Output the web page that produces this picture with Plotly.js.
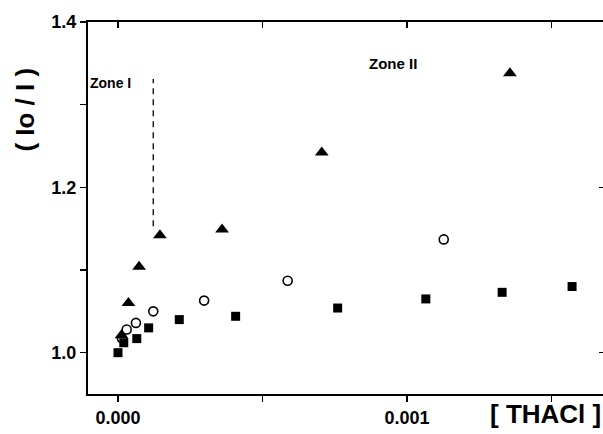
<!DOCTYPE html>
<html>
<head>
<meta charset="utf-8">
<script src="https://cdn.plot.ly/plotly-3.0.1.min.js"></script>
<style>html,body{margin:0;padding:0;background:#fff;}#chart{width:603px;height:434px;}</style>
</head>
<body>
<div id="chart"></div>
<script>
// Data
const squareX = [0, 0.000020, 0.000065, 0.000106, 0.000212, 0.000407, 0.000760, 0.001065, 0.001329, 0.001571];
const squareY = [1.000, 1.012, 1.017, 1.030, 1.040, 1.044, 1.054, 1.065, 1.073, 1.080];
const circleX = [0.000014, 0.000030, 0.000062, 0.000122, 0.000298, 0.000587, 0.001127];
const circleY = [1.017, 1.028, 1.036, 1.050, 1.063, 1.087, 1.137];
const triangleX = [0.000012, 0.000036, 0.000073, 0.000145, 0.000360, 0.000705, 0.001356];
const triangleY = [1.021, 1.060, 1.104, 1.142, 1.149, 1.242, 1.338];
const zoneBoundaryX = [0.000122, 0.000122];
const zoneBoundaryY = [1.153, 1.331];
const xTickVals = [0, 0.0005, 0.001, 0.0015];
const xTickText = ['0.000', '', '0.001', ''];
const yTickVals = [1.0, 1.1, 1.2, 1.3, 1.4];
const yTickText = ['1.0', '', '1.2', '', '1.4'];

const font = 'Liberation Sans, Arial, sans-serif';

const traces = [
  {x: zoneBoundaryX, y: zoneBoundaryY, mode: 'lines', line: {color: '#000', width: 1.3, dash: '6px,5px'}, hoverinfo: 'skip'},
  {x: circleX, y: circleY, mode: 'markers', marker: {symbol: 'circle-open', size: 9, color: '#000', line: {width: 1.6, color: '#000'}}},
  {x: triangleX, y: triangleY, mode: 'markers', marker: {symbol: 'triangle-up', size: 12, color: '#000'}},
  {x: squareX, y: squareY, mode: 'markers', marker: {symbol: 'square', size: 9, color: '#000'}},
  {x: [0], y: [1.0], mode: 'markers', xaxis: 'x2', yaxis: 'y2', marker: {opacity: 0}, hoverinfo: 'skip'}
];

const layout = {
  width: 603, height: 434,
  margin: {l: 88, r: 0, t: 22, b: 40},
  paper_bgcolor: '#fff', plot_bgcolor: '#fff',
  showlegend: false,
  font: {family: font, color: '#000'},
  xaxis: {
    range: [-0.0001038, 0.001678],
    tickvals: xTickVals, ticktext: xTickText,
    ticks: 'outside', ticklen: 6, tickwidth: 1.5, tickcolor: '#000',
    showline: true, linewidth: 2, linecolor: '#000',
    showgrid: false, zeroline: false,
    tickfont: {family: font, size: 18, color: '#000', weight: 'bold'}
  },
  xaxis2: {
    overlaying: 'x', side: 'top', matches: 'x',
    tickvals: xTickVals, showticklabels: false,
    ticks: 'inside', ticklen: 6, tickwidth: 1.5, tickcolor: '#000',
    showline: true, linewidth: 2, linecolor: '#000',
    showgrid: false, zeroline: false
  },
  yaxis: {
    range: [0.95, 1.4],
    tickvals: yTickVals, ticktext: yTickText,
    ticks: 'outside', ticklen: 6, tickwidth: 1.5, tickcolor: '#000',
    showline: true, linewidth: 2, linecolor: '#000',
    showgrid: false, zeroline: false,
    tickfont: {family: font, size: 18, color: '#000', weight: 'bold'}
  },
  yaxis2: {
    overlaying: 'y', side: 'right', matches: 'y',
    tickvals: [1.0, 1.2], showticklabels: false,
    ticks: 'inside', ticklen: 4, tickwidth: 1.2, tickcolor: '#000',
    showline: false, showgrid: false, zeroline: false
  },
  annotations: [
    {text: 'Zone I', xref: 'paper', yref: 'paper', x: 0.0, y: 0.835, xanchor: 'left', yanchor: 'middle', showarrow: false,
     font: {family: font, size: 14, color: '#000', weight: 'bold'}},
    {text: 'Zone II', xref: 'paper', yref: 'paper', x: 0.592, y: 0.888, xanchor: 'center', yanchor: 'middle', showarrow: false,
     font: {family: font, size: 15, color: '#000', weight: 'bold'}},
    {text: '[ THACl ]', xref: 'paper', yref: 'paper', x: 1.0, y: -0.055, xanchor: 'right', yanchor: 'middle', showarrow: false,
     font: {family: font, size: 26, color: '#000', weight: 'bold'}},
    {text: '( Io / I )', xref: 'paper', yref: 'paper', x: -0.122, y: 0.765, xanchor: 'center', yanchor: 'middle', showarrow: false, textangle: -90,
     font: {family: font, size: 26, color: '#000', weight: 'bold'}}
  ]
};

Plotly.newPlot('chart', traces, layout, {displayModeBar: false, staticPlot: true});
</script>
</body>
</html>
